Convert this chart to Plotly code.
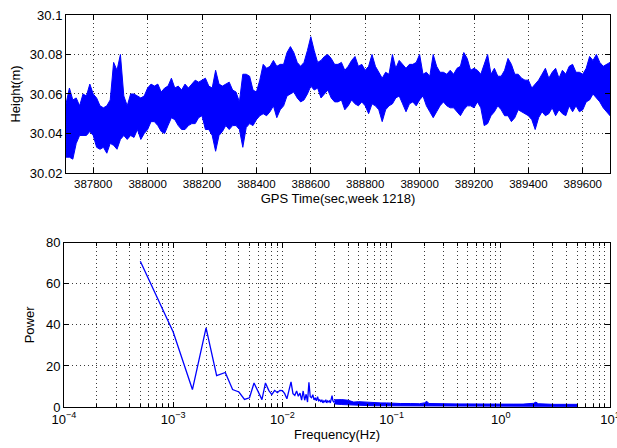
import plotly.graph_objects as go

# ---------------- data ----------------
T0 = 387700      # first sample time (s)
DT = 12.5        # spacing of the envelope readings (s)

height_upper = [
    30.055, 30.063, 30.057, 30.058, 30.054, 30.060, 30.059, 30.065, 30.060, 30.058,
    30.054, 30.053, 30.054, 30.057, 30.076, 30.072, 30.080, 30.059, 30.054, 30.060,
    30.060, 30.059, 30.058, 30.059, 30.063, 30.065, 30.064, 30.065, 30.061, 30.063,
    30.064, 30.068, 30.063, 30.064, 30.062, 30.065, 30.063, 30.065, 30.067, 30.066,
    30.067,
    30.068, 30.064, 30.063, 30.072, 30.065, 30.064, 30.065, 30.066, 30.062, 30.061,
    30.056, 30.070, 30.070, 30.069, 30.062, 30.061, 30.067, 30.075, 30.073, 30.074,
    30.077, 30.074, 30.075, 30.075, 30.081, 30.084, 30.081, 30.076, 30.074, 30.076,
    30.082, 30.089, 30.082, 30.076, 30.077, 30.079, 30.080, 30.078, 30.075, 30.075,
    30.076, 30.072, 30.074, 30.077, 30.079, 30.074, 30.075, 30.072, 30.074, 30.080,
    30.074, 30.071, 30.068, 30.071, 30.070, 30.080, 30.073, 30.077, 30.075, 30.073,
    30.075, 30.075, 30.076, 30.080, 30.070, 30.071, 30.069, 30.080, 30.074, 30.071,
    30.071, 30.070, 30.072, 30.070, 30.073, 30.074, 30.081, 30.078, 30.072, 30.073,
    30.072, 30.070, 30.075, 30.080, 30.070, 30.073, 30.069, 30.069, 30.072, 30.078,
    30.075, 30.070, 30.070, 30.068, 30.067, 30.067, 30.063, 30.065, 30.067, 30.070,
    30.073, 30.068, 30.071, 30.073, 30.068, 30.072, 30.070, 30.074, 30.075, 30.071,
    30.071, 30.070, 30.073, 30.079, 30.077, 30.080, 30.076, 30.074, 30.075, 30.076,
]
height_lower = [
    30.028, 30.028, 30.027, 30.035, 30.039, 30.039, 30.039, 30.041, 30.039, 30.033,
    30.032, 30.033, 30.030, 30.035, 30.034, 30.032, 30.037, 30.039, 30.037, 30.039,
    30.038, 30.042, 30.037, 30.040, 30.042, 30.046, 30.046, 30.044, 30.041, 30.040,
    30.044, 30.048, 30.047, 30.044, 30.042, 30.042, 30.044, 30.045, 30.045, 30.048,
    30.049,
    30.042, 30.042, 30.039, 30.031, 30.039, 30.041, 30.044, 30.042, 30.044, 30.044,
    30.042, 30.033, 30.043, 30.045, 30.044, 30.047, 30.049, 30.050, 30.049, 30.051,
    30.054, 30.048, 30.052, 30.054, 30.059, 30.060, 30.061, 30.058, 30.056, 30.057,
    30.060, 30.064, 30.062, 30.063, 30.058, 30.060, 30.062, 30.058, 30.056, 30.056,
    30.057, 30.052, 30.054, 30.057, 30.055, 30.054, 30.056, 30.054, 30.050, 30.055,
    30.054, 30.052, 30.046, 30.052, 30.054, 30.055, 30.058, 30.059, 30.055, 30.051,
    30.055, 30.056, 30.054, 30.057, 30.059, 30.054, 30.051, 30.048, 30.051, 30.054,
    30.056, 30.054, 30.053, 30.053, 30.051, 30.049, 30.052, 30.054, 30.054, 30.053,
    30.056, 30.053, 30.044, 30.045, 30.049, 30.051, 30.054, 30.052, 30.049, 30.049,
    30.046, 30.048, 30.052, 30.051, 30.050, 30.049, 30.047, 30.042, 30.048, 30.051,
    30.049, 30.050, 30.053, 30.049, 30.052, 30.050, 30.049, 30.054, 30.051, 30.054,
    30.051, 30.052, 30.056, 30.057, 30.060, 30.058, 30.056, 30.053, 30.051, 30.049,
]
time_s = [T0 + DT * i for i in range(len(height_upper))]

# spectrum: FFT bins of 0.0005 Hz up to 0.03 Hz
DF = 0.0005
power_low = [
    71.0, 36.5, 8.5, 38.5, 15.3, 16.8, 8.5, 7.3, 3.7, 4.5,
    11.7, 7.3, 3.6, 11.7, 8.1, 6.0, 8.1, 7.0, 8.1, 8.0,
    6.5, 4.0, 8.0, 12.2, 6.5, 5.7, 7.8, 5.2, 6.8, 3.3,
    7.8, 3.3, 6.2, 2.4, 12.0, 5.0, 4.5, 6.0, 3.5, 4.5,
    3.0, 5.0, 3.0, 3.5, 2.5, 3.5, 2.0, 3.0, 2.5, 3.5,
    2.0, 3.0, 2.5, 3.0, 2.0, 4.0, 5.5, 3.0, 2.5, 3.0,
]
freq_low = [DF * (k + 1) for k in range(len(power_low))]

# dense high-frequency part: envelope of the band
freq_high = [0.03, 0.035, 0.04, 0.045, 0.05, 0.06, 0.07, 0.08, 0.09, 0.1,
             0.12, 0.15, 0.18, 0.2, 0.21, 0.22, 0.25, 0.3, 0.4, 0.5,
             0.6, 0.8, 1.0, 1.3, 1.6, 2.0, 2.1, 2.2, 2.5, 3.0, 4.0, 5.0]
power_high_upper = [3.5, 3.6, 3.3, 2.4, 2.6, 2.3, 2.1, 2.0, 2.0, 1.8,
                    1.7, 1.7, 1.6, 2.0, 2.8, 1.7, 1.6, 1.6, 1.5, 1.5,
                    1.4, 1.4, 1.4, 1.4, 1.4, 1.8, 2.4, 1.6, 1.4, 1.3, 1.3, 1.3]
power_high_lower = [1.5, 1.2, 1.0, 0.9, 0.8, 0.7, 0.6, 0.5, 0.5, 0.4,
                    0.3, 0.3, 0.3, 0.3, 0.3, 0.3, 0.3, 0.3, 0.3, 0.3,
                    0.3, 0.3, 0.3, 0.3, 0.3, 0.3, 0.3, 0.3, 0.3, 0.3, 0.3, 0.3]

top_xticks = [387800, 388000, 388200, 388400, 388600, 388800, 389000, 389200, 389400, 389600]
top_yticks = [30.02, 30.04, 30.06, 30.08, 30.1]
top_yticktext = ["30.02", "30.04", "30.06", "30.08", "30.1"]
freq_ticks = [1e-4, 1e-3, 1e-2, 1e-1, 1e0, 1e1]
freq_ticktext = ["10<sup>\u22124</sup>", "10<sup>\u22123</sup>", "10<sup>\u22122</sup>",
                 "10<sup>\u22121</sup>", "10<sup>0</sup>", "10<sup>1</sup>"]

# ---------------- figure ----------------
BLUE = "#0000FF"
GRID = "#3a3a3a"
DOT = "1px,3px"
FONT = "Liberation Sans, Arial, Helvetica, sans-serif"

fig = go.Figure()

# top: dense height series drawn as the band between the read extremes
fig.add_trace(go.Scatter(
    x=time_s + time_s[::-1],
    y=height_upper + height_lower[::-1],
    mode="lines", fill="toself", fillcolor=BLUE,
    line=dict(color=BLUE, width=1),
    xaxis="x", yaxis="y", showlegend=False, hoverinfo="skip"))

# bottom: spectrum
fig.add_trace(go.Scatter(
    x=freq_low, y=power_low, mode="lines",
    line=dict(color=BLUE, width=1.3),
    xaxis="x2", yaxis="y2", showlegend=False))
fig.add_trace(go.Scatter(
    x=freq_high + freq_high[::-1],
    y=power_high_upper + power_high_lower[::-1],
    mode="lines", fill="toself", fillcolor=BLUE,
    line=dict(color=BLUE, width=1),
    xaxis="x2", yaxis="y2", showlegend=False))

axis_common = dict(
    showline=True, linecolor="black", linewidth=1, mirror="ticks",
    ticks="inside", ticklen=5, tickcolor="black", tickwidth=1,
    showgrid=True, gridcolor=GRID, griddash=DOT, gridwidth=1,
    zeroline=False, ticklabeloverflow="allow", automargin=False,
)

fig.update_layout(
    width=617, height=448,
    margin=dict(l=64, r=7, t=15, b=41),
    paper_bgcolor="white", plot_bgcolor="white",
    font=dict(family=FONT, size=13, color="black"),
    xaxis=dict(
        axis_common, domain=[0.0037, 1], range=[387700, 389700],
        tickmode="array", tickvals=top_xticks,
        ticktext=[str(v) for v in top_xticks],
        tickfont=dict(size=11.5, family="Liberation Sans Narrow, " + FONT),
        title=dict(text="GPS Time(sec,week 1218)", standoff=5, font=dict(size=13)),
        anchor="y",
    ),
    yaxis=dict(
        axis_common, domain=[0.597, 1], range=[30.02, 30.1],
        tickmode="array", tickvals=top_yticks, ticktext=top_yticktext,
        tickfont=dict(size=13),
        title=dict(text="Height(m)", standoff=6, font=dict(size=13)),
        anchor="x",
    ),
    xaxis2=dict(
        axis_common, type="log", domain=[0, 1], range=[-4, 1.0005],
        tickmode="array", tickvals=freq_ticks, ticktext=freq_ticktext,
        tickfont=dict(size=13),
        minor=dict(tickmode="array",
                   tickvals=[m * d for d in [1e-4, 1e-3, 1e-2, 1e-1, 1e0] for m in range(2, 10)],
                   ticks="inside", ticklen=3, tickcolor="black",
                   showgrid=True, gridcolor=GRID, griddash=DOT, gridwidth=1),
        title=dict(text="Frequency(Hz)", standoff=2, font=dict(size=13)),
        anchor="y2",
    ),
    yaxis2=dict(
        axis_common, domain=[0, 0.419], range=[0, 80], dtick=20,
        tickfont=dict(size=13),
        title=dict(text="Power", standoff=8, font=dict(size=13)),
        anchor="x2",
    ),
)

fig.write_html("out.html")
